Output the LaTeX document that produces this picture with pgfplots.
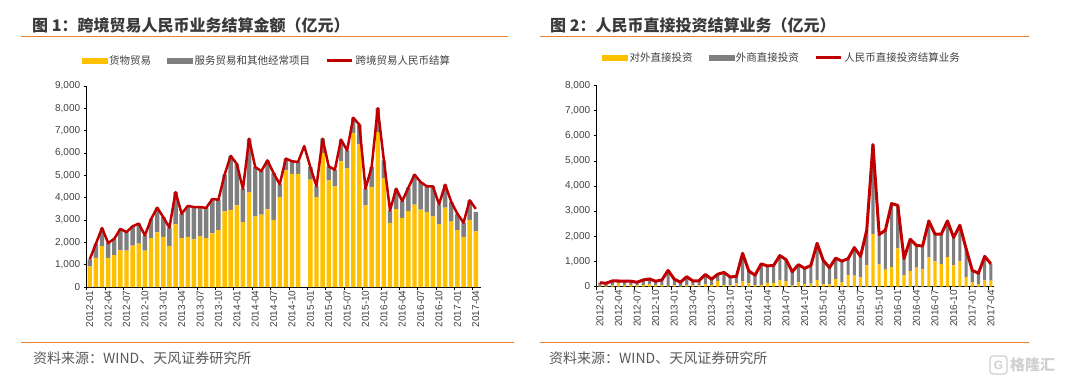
\documentclass[border=0pt]{standalone}
\usepackage{pgfplots}
\pgfplotsset{compat=1.18}
\usepackage{pgfplotstable}
\usepackage{fontspec}
\setmainfont{Liberation Sans}
\newfontfamily\cjk{Noto Sans CJK SC}
\definecolor{ylw}{HTML}{FFC000}
\definecolor{gry}{HTML}{7F7F7F}
\definecolor{rd}{HTML}{C00000}
\definecolor{org}{HTML}{E8822F}
\definecolor{txt}{HTML}{404040}
\definecolor{ttl}{HTML}{3A3A3A}
\definecolor{src}{HTML}{595959}
\definecolor{wm}{HTML}{D0D0D0}

\pgfplotstableread{
x y s l
0 925 315 1240
1 1300 640 1940
2 1835 805 2640
3 1300 670 1970
4 1430 730 2160
5 1640 960 2600
6 1630 830 2460
7 1850 870 2720
8 1940 900 2840
9 1630 680 2310
10 2190 850 3040
11 2450 1100 3550
12 2240 890 3130
13 1840 820 2660
14 2800 1450 4250
15 2190 1090 3280
16 2250 1380 3630
17 2130 1450 3580
18 2280 1300 3580
19 2190 1350 3540
20 2400 1540 3940
21 2550 1360 3910
22 3390 1640 5030
23 3450 2420 5870
24 3660 1850 5510
25 2900 1490 4390
26 4240 2400 6640
27 3160 2210 5370
28 3240 1950 5190
29 3480 2190 5670
30 3010 2090 5100
31 4030 570 4600
32 5220 530 5750
33 5070 560 5630
34 5070 530 5600
35 0 0 6310
36 4810 560 5370
37 4030 480 4510
38 6000 640 6640
39 4780 620 5400
40 4510 740 5250
41 5630 970 6600
42 5310 810 6120
43 6900 680 7580
44 6390 880 7270
45 3660 740 4400
46 4480 890 5370
47 6940 1070 8010
48 4880 790 5670
49 2870 560 3430
50 3490 910 4400
51 3100 750 3850
52 3400 1050 4450
53 3690 1340 5030
54 3460 1240 4700
55 3360 1150 4510
56 3160 1350 4510
57 2810 890 3700
58 3550 1030 4580
59 2930 880 3810
60 2550 730 3280
61 2240 640 2880
62 3010 870 3880
63 2490 870 3500
}\tA

\pgfplotstableread{
x y s l
0 30 120 150
1 20 110 130
2 40 180 220
3 130 90 220
4 60 150 210
5 50 160 210
6 40 130 170
7 60 200 260
8 80 220 300
9 40 170 210
10 60 200 260
11 30 610 640
12 40 250 290
13 30 140 170
14 60 330 390
15 40 180 220
16 40 190 230
17 80 400 480
18 50 240 290
19 220 270 490
20 60 500 560
21 40 340 380
22 120 280 400
23 200 1120 1320
24 140 480 620
25 40 410 450
26 60 840 900
27 140 680 820
28 140 700 840
29 240 990 1230
30 210 860 1070
31 40 550 590
32 160 710 870
33 90 630 720
34 110 730 840
35 260 1460 1720
36 80 960 1040
37 80 670 750
38 300 830 1130
39 170 840 1010
40 460 650 1110
41 430 1120 1550
42 360 840 1200
43 840 1400 2240
44 2080 3570 5650
45 880 1190 2070
46 670 1570 2240
47 770 2530 3300
48 1520 1710 3230
49 440 670 1110
50 610 1270 1880
51 750 890 1640
52 680 930 1610
53 1160 1450 2610
54 1000 1080 2080
55 890 1190 2080
56 1170 1440 2610
57 840 1110 1950
58 1000 1440 2440
59 370 1140 1510
60 170 470 640
61 90 440 530
62 240 960 1200
63 230 670 900
}\tB

\pgfplotsset{
  base/.style={scale only axis, enlargelimits=false, xmin=-0.5, ymin=0, clip=false},
  deco/.style={
    axis x line*=bottom, axis y line*=left,
    axis line style={black, line width=0.8pt},
    tick align=outside,
    major tick length=3pt,
    tick style={black, line width=0.6pt},
    xtick={-0.5,2.5,...,62.5}, xticklabels={},
    extra x ticks={0,3,...,63},
    extra x tick labels={2012-01,2012-04,2012-07,2012-10,2013-01,2013-04,2013-07,2013-10,2014-01,2014-04,2014-07,2014-10,2015-01,2015-04,2015-07,2015-10,2016-01,2016-04,2016-07,2016-10,2017-01,2017-04},
    extra x tick style={major tick length=0pt, tick style={draw=none}},
    x tick label style={rotate=90, anchor=east, font=\fontsize{10}{10}\selectfont, text=txt},
    y tick label style={font=\fontsize{10}{10}\selectfont, text=txt},
    /pgf/number format/1000 sep={,},
    /pgf/number format/assume math mode=true,
  },
  lgd/.style={
    legend style={draw=none, fill=none, legend columns=-1,
      font=\cjk\fontsize{10.5}{10.5}\selectfont, text=txt,
      /tikz/every even column/.append style={column sep=14pt}},
  },
}

\begin{document}
\begin{tikzpicture}
\path[use as bounding box] (0pt,0pt) rectangle (1065pt,384pt);

% ---------- Panel 1 ----------
\node[anchor=west, inner sep=0pt, text=ttl, font=\cjk\bfseries\fontsize{16}{16}\selectfont] at (32pt,359pt) {图 1：跨境贸易人民币业务结算金额（亿元）};
\draw[org, line width=1pt] (20.7pt,347.3pt) -- (508pt,347.3pt);
\draw[org, line width=1pt] (20.7pt,41.3pt) -- (514pt,41.3pt);
\node[anchor=west, inner sep=0pt, text=src, font=\cjk\fontsize{14}{14}\selectfont] at (33pt,26pt) {资料来源：WIND、天风证券研究所};

\begin{axis}[base, deco, at={(86.7pt,97pt)}, anchor=south west, width=394pt, height=201pt,
  xmax=63.8, ymax=9000, ytick={0,1000,...,9000}, ybar stacked, bar width=0.72]
  \addplot[fill=ylw, draw=none] table[x=x, y=y]{\tA};
  \addplot[fill=gry, draw=none] table[x=x, y=s]{\tA};
\end{axis}
\begin{axis}[base, hide axis, lgd, at={(86.7pt,97pt)}, anchor=south west, width=394pt, height=201pt,
  xmax=63.8, ymax=9000,
  legend style={at={(0.4576,1.126)}, anchor=center}]
  \addlegendimage{legend image code/.code={\fill[ylw] (0pt,-2.5pt) rectangle (25pt,2.5pt);}}
  \addlegendentry{货物贸易}
  \addlegendimage{legend image code/.code={\fill[gry] (0pt,-2.5pt) rectangle (25pt,2.5pt);}}
  \addlegendentry{服务贸易和其他经常项目}
  \addplot[rd, line width=2.5pt, line join=round, mark=none,
    legend image code/.code={\draw[rd, line width=2.5pt] (0pt,0pt) -- (25pt,0pt);}] table[x=x, y=l]{\tA};
  \addlegendentry{跨境贸易人民币结算}
\end{axis}

% ---------- Panel 2 ----------
\node[anchor=west, inner sep=0pt, text=ttl, font=\cjk\bfseries\fontsize{16}{16}\selectfont] at (550pt,359pt) {图 2：人民币直接投资结算业务（亿元）};
\draw[org, line width=1pt] (540pt,347.3pt) -- (1029pt,347.3pt);
\draw[org, line width=1pt] (540pt,41.3pt) -- (1029pt,41.3pt);
\node[anchor=west, inner sep=0pt, text=src, font=\cjk\fontsize{14}{14}\selectfont] at (549pt,26pt) {资料来源：WIND、天风证券研究所};

\begin{axis}[base, deco, at={(596.7pt,97.5pt)}, anchor=south west, width=397.3pt, height=201pt,
  xmax=63.5, ymax=8000, ytick={0,1000,...,8000}, ybar stacked, bar width=0.5]
  \addplot[fill=ylw, draw=none] table[x=x, y=y]{\tB};
  \addplot[fill=gry, draw=none] table[x=x, y=s]{\tB};
\end{axis}
\begin{axis}[base, hide axis, lgd, at={(596.7pt,97.5pt)}, anchor=south west, width=397.3pt, height=201pt,
  xmax=63.5, ymax=8000,
  legend style={at={(0.4664,1.140)}, anchor=center}]
  \addlegendimage{legend image code/.code={\fill[ylw] (0pt,-2.5pt) rectangle (25pt,2.5pt);}}
  \addlegendentry{对外直接投资}
  \addlegendimage{legend image code/.code={\fill[gry] (0pt,-2.5pt) rectangle (25pt,2.5pt);}}
  \addlegendentry{外商直接投资}
  \addplot[rd, line width=3pt, line join=round, mark=none,
    legend image code/.code={\draw[rd, line width=2.5pt] (0pt,0pt) -- (25pt,0pt);}] table[x=x, y=l]{\tB};
  \addlegendentry{人民币直接投资结算业务}
\end{axis}

% watermark
\draw[wm, line width=1.2pt, rounded corners=3pt] (990pt,10pt) rectangle (1007pt,28pt);
\node[text=wm, font=\bfseries\fontsize{12}{12}\selectfont] at (998.5pt,19pt) {G};
\node[anchor=west, inner sep=0pt, text=wm, font=\cjk\bfseries\fontsize{15}{15}\selectfont] at (1010pt,19pt) {格隆汇};
\end{tikzpicture}
\end{document}
